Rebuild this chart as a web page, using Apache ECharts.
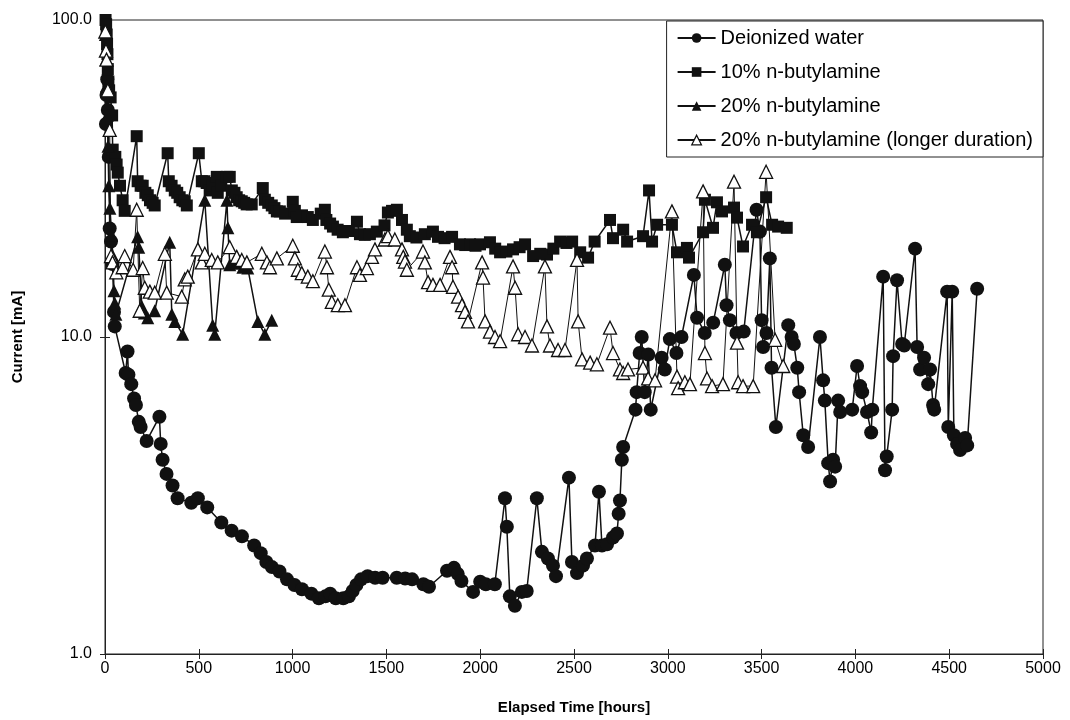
<!DOCTYPE html>
<html>
<head>
<meta charset="utf-8">
<script src="https://cdn.jsdelivr.net/npm/echarts@6/dist/echarts.min.js"></script>
<style>
  html, body { margin: 0; padding: 0; background: #fff; }
  #chart { width: 1070px; height: 720px; }
</style>
</head>
<body>
<div id="chart"></div>
<script>
// [elapsed hours, current mA]
const deionized = [
  [5, 47], [8, 58], [12, 65], [15, 52], [20, 37], [25, 22], [32, 20], [40, 17], [48, 12], [52, 10.8],
  [110, 7.7], [120, 9.0], [125, 7.6], [140, 7.1], [155, 6.4], [165, 6.1], [180, 5.4], [190, 5.2],
  [222, 4.7], [290, 5.6], [297, 4.6], [307, 4.1], [328, 3.7], [360, 3.4], [387, 3.1], [460, 3.0],
  [495, 3.1], [545, 2.9], [620, 2.6], [675, 2.45], [730, 2.35], [795, 2.2], [830, 2.08], [860, 1.95],
  [890, 1.88], [930, 1.82], [970, 1.72], [1010, 1.65], [1050, 1.6], [1100, 1.55], [1140, 1.5],
  [1175, 1.52], [1200, 1.55], [1230, 1.5], [1270, 1.5], [1300, 1.52], [1320, 1.58], [1340, 1.65],
  [1365, 1.72], [1400, 1.76], [1440, 1.74], [1480, 1.74], [1555, 1.74], [1600, 1.73], [1637, 1.72],
  [1697, 1.66], [1727, 1.63], [1823, 1.83], [1860, 1.87], [1880, 1.79], [1900, 1.7], [1962, 1.57],
  [2000, 1.69], [2030, 1.66], [2078, 1.66], [2132, 3.1], [2142, 2.52], [2158, 1.52], [2185, 1.42],
  [2222, 1.57], [2248, 1.58], [2302, 3.1], [2329, 2.1], [2361, 2.0], [2388, 1.9], [2404, 1.76],
  [2473, 3.6], [2489, 1.95], [2516, 1.8], [2548, 1.9], [2569, 2.0], [2612, 2.2], [2633, 3.25],
  [2649, 2.2], [2676, 2.22], [2708, 2.33], [2729, 2.4], [2738, 2.77], [2745, 3.05], [2755, 4.1],
  [2762, 4.5], [2828, 5.9], [2834, 6.7], [2850, 8.9], [2861, 10.0], [2877, 6.7], [2896, 8.8],
  [2909, 5.9], [2967, 8.6], [2984, 7.9], [3011, 9.85], [3046, 8.9], [3073, 10.0], [3139, 15.7],
  [3156, 11.5], [3197, 10.3], [3242, 11.1], [3304, 16.9], [3313, 12.6], [3331, 11.3], [3366, 10.3],
  [3405, 10.4], [3473, 25.2], [3491, 21.5], [3500, 11.3], [3508, 9.3], [3526, 10.3], [3544, 17.7],
  [3553, 8.0], [3576, 5.2], [3642, 10.9], [3660, 10.0], [3672, 9.5], [3690, 8.0], [3700, 6.7],
  [3722, 4.9], [3748, 4.5], [3811, 10.0], [3828, 7.3], [3837, 6.3], [3855, 4.0], [3865, 3.5],
  [3881, 4.1], [3892, 3.9], [3908, 6.3], [3919, 5.8], [3983, 5.9], [4009, 8.1], [4025, 7.0],
  [4036, 6.7], [4062, 5.8], [4084, 5.0], [4090, 5.9], [4148, 15.5], [4158, 3.8], [4167, 4.2],
  [4196, 5.9], [4201, 8.7], [4222, 15.1], [4249, 9.5], [4260, 9.4], [4318, 19.0], [4329, 9.3],
  [4345, 7.9], [4366, 8.6], [4388, 7.1], [4398, 7.9], [4414, 6.1], [4420, 5.9], [4489, 13.9],
  [4495, 5.2], [4516, 13.9], [4525, 4.9], [4542, 4.6], [4558, 4.4], [4585, 4.8], [4596, 4.55],
  [4649, 14.2]
];

const butyl10 = [
  [3, 100], [6, 97], [9, 90], [11, 84], [13, 78], [15, 70], [18, 64], [22, 60], [30, 57], [38, 50],
  [41, 39], [55, 37], [62, 35], [68, 33], [80, 30], [94, 27], [105, 25], [169, 43], [174, 31],
  [190, 30], [201, 30], [215, 28.5], [228, 28], [240, 27], [254, 26.5], [265, 26], [334, 38],
  [340, 31], [355, 30], [372, 29], [385, 28.5], [398, 27.6], [412, 27], [425, 26.8], [436, 26],
  [500, 38], [516, 31], [530, 31], [542, 30.6], [558, 29], [575, 30], [596, 32], [601, 28.5],
  [620, 30], [649, 32], [665, 32], [676, 29], [690, 28.5], [702, 27.6], [715, 27], [729, 26.8],
  [742, 26.5], [755, 26.2], [782, 26.2], [841, 29.5], [852, 27.1], [870, 26.5], [889, 26],
  [903, 25.5], [916, 24.9], [932, 24.9], [960, 24.5], [1001, 26.7], [1012, 25.0], [1022, 23.9],
  [1050, 24.2], [1081, 23.9], [1108, 23.4], [1150, 24.5], [1172, 25.2], [1180, 23.4], [1200, 22.8],
  [1215, 22.3], [1240, 21.8], [1268, 21.4], [1300, 21.6], [1343, 23.1], [1359, 21.1], [1385, 21.0],
  [1412, 21.1], [1449, 21.5], [1490, 22.5], [1508, 24.7], [1530, 25.0], [1556, 25.2], [1583, 23.4],
  [1609, 21.8], [1625, 20.8], [1660, 20.6], [1705, 21.1], [1748, 21.5], [1775, 20.7], [1810, 20.5],
  [1850, 20.7], [1892, 19.6], [1920, 19.5], [1946, 19.6], [1975, 19.4], [1999, 19.6], [2052, 19.9],
  [2080, 19.0], [2106, 18.5], [2140, 18.6], [2175, 18.9], [2210, 19.2], [2239, 19.6], [2282, 18.0],
  [2320, 18.3], [2356, 18.2], [2390, 19.0], [2426, 20.0], [2460, 19.8], [2490, 20.0], [2533, 18.5],
  [2575, 17.8], [2610, 20.0], [2692, 23.4], [2708, 20.5], [2762, 21.8], [2783, 20.0], [2868, 20.8],
  [2900, 29.0], [2916, 20.0], [2943, 22.6], [3022, 22.6], [3049, 18.5], [3102, 19.1], [3113, 17.8],
  [3188, 21.4], [3198, 27.1], [3241, 22.1], [3262, 26.6], [3289, 24.9], [3353, 25.6], [3369, 23.8],
  [3401, 19.3], [3449, 22.6], [3475, 21.4], [3524, 27.6], [3556, 22.6], [3588, 22.3], [3634, 22.1]
];

const butyl20 = [
  [2, 90], [5, 75], [8, 62], [12, 50], [16, 40], [20, 30], [26, 25.5], [35, 21], [42, 18], [48, 14],
  [52, 12.8], [58, 11.8], [174, 20.7], [180, 19.2], [196, 12.5], [210, 11.9], [228, 11.5], [265, 12.1],
  [345, 19.9], [356, 11.8], [372, 11.2], [414, 10.2], [532, 27], [574, 10.9], [585, 10.2], [650, 27],
  [655, 22.1], [665, 16.9], [700, 17.1], [735, 16.6], [761, 16.5], [815, 11.2], [852, 10.2], [889, 11.3]
];

const butyl20Long = [
  [2, 92], [5, 80], [8, 75], [15, 60], [25, 45], [32, 18], [40, 17.2], [60, 16], [94, 16.6], [105, 18],
  [150, 16.3], [169, 25.2], [185, 12.1], [201, 16.5], [212, 14.3], [239, 13.9], [265, 13.8], [319, 18.3],
  [329, 13.8], [409, 13.4], [425, 15.2], [441, 15.5], [495, 18.9], [516, 17.2], [532, 18.3], [569, 17.5],
  [601, 17.2], [665, 19.2], [702, 17.9], [729, 17.5], [756, 17.2], [836, 18.3], [863, 17.2], [879, 16.6],
  [916, 17.7], [1001, 19.4], [1012, 17.7], [1028, 16.3], [1049, 15.9], [1081, 15.5], [1108, 15.0],
  [1172, 18.6], [1183, 16.6], [1193, 14.1], [1209, 12.9], [1241, 12.6], [1279, 12.6], [1343, 16.6],
  [1359, 15.7], [1396, 16.5], [1423, 17.9], [1439, 18.9], [1492, 20.3], [1508, 20.8], [1545, 20.3],
  [1583, 18.9], [1590, 17.9], [1599, 17.3], [1609, 16.3], [1695, 18.6], [1705, 17.2], [1722, 14.9],
  [1748, 14.6], [1786, 14.6], [1839, 17.9], [1850, 16.6], [1855, 14.4], [1882, 13.4], [1903, 12.6],
  [1919, 12.0], [1935, 11.2], [2010, 17.2], [2015, 15.4], [2026, 11.2], [2052, 10.4], [2079, 10.0],
  [2106, 9.7], [2175, 16.7], [2186, 14.3], [2202, 10.2], [2239, 10.0], [2276, 9.4], [2345, 16.7],
  [2356, 10.8], [2372, 9.4], [2415, 9.1], [2452, 9.1], [2516, 17.5], [2522, 11.2], [2543, 8.5],
  [2586, 8.3], [2622, 8.2], [2692, 10.7], [2708, 8.9], [2745, 7.9], [2762, 7.7], [2788, 7.9],
  [2868, 8.0], [2895, 7.4], [2932, 7.3], [3022, 24.9], [3049, 7.5], [3055, 6.9], [3091, 7.2],
  [3118, 7.1], [3188, 28.8], [3198, 8.9], [3209, 7.4], [3236, 7.0], [3294, 7.1], [3353, 30.9],
  [3369, 9.6], [3375, 7.2], [3401, 7.0], [3455, 7.0], [3524, 33.2], [3572, 9.8], [3615, 8.1]
];

const seriesNames = [
  'Deionized water',
  '10% n-butylamine',
  '20% n-butylamine',
  '20% n-butylamine (longer duration)'
];
const xTicks = { min: 0, max: 5000, interval: 500 };
const yTicks = { min: 1, max: 100 };

const font = '"Liberation Sans", Arial, sans-serif';
const ink = '#111';

const chart = echarts.init(document.getElementById('chart'));

function lineSeries(name, data, symbol, size, open) {
  return {
    name: name,
    type: 'line',
    data: data,
    symbol: symbol,
    symbolSize: size,
    showSymbol: true,
    showAllSymbol: true,
    lineStyle: { color: ink, width: open ? 1 : 1.5 },
    itemStyle: open
      ? { color: '#fff', borderColor: ink, borderWidth: 1.3 }
      : { color: ink, borderColor: ink, borderWidth: 0 },
    emphasis: { disabled: true }
  };
}

chart.setOption({
  animation: false,
  backgroundColor: '#fff',
  grid: {
    left: 105, right: 27, top: 20, bottom: 65,
    show: true, borderColor: '#222', borderWidth: 1, backgroundColor: 'transparent'
  },
  legend: {
    orient: 'vertical',
    right: 27,
    top: 21,
    padding: [0, 10, 0, 10],
    itemWidth: 38,
    itemHeight: 12,
    itemGap: 0,
    backgroundColor: '#fff',
    borderColor: '#222',
    borderWidth: 1,
    borderRadius: 0,
    textStyle: { fontFamily: font, fontSize: 20, lineHeight: 34, color: '#000' },
    data: seriesNames.map(function (n, i) {
      return { name: n, itemStyle: i === 3 ? { color: '#fff', borderColor: ink, borderWidth: 1.3 } : undefined };
    })
  },
  xAxis: [{
    type: 'value',
    min: xTicks.min, max: xTicks.max, interval: xTicks.interval,
    name: 'Elapsed Time [hours]',
    nameLocation: 'middle',
    nameGap: 46,
    nameTextStyle: { fontFamily: font, fontSize: 15, fontWeight: 'bold', color: '#000' },
    axisLine: { lineStyle: { color: '#222', width: 1 } },
    axisTick: { inside: false, length: 5, lineStyle: { color: '#222' } },
    axisLabel: {
      fontFamily: font, fontSize: 16, color: '#000', margin: 7,
      formatter: function (v) { return String(v); }
    },
    splitLine: { show: false }
  }, {
    type: 'value', position: 'bottom',
    min: xTicks.min, max: xTicks.max, interval: xTicks.interval,
    axisLine: { show: false },
    axisTick: { inside: true, length: 5, lineStyle: { color: '#222' } },
    axisLabel: { show: false },
    splitLine: { show: false }
  }],
  yAxis: [{
    type: 'log',
    logBase: 10,
    min: yTicks.min, max: yTicks.max,
    name: 'Current [mA]',
    nameLocation: 'middle',
    nameGap: 80,
    nameTextStyle: { fontFamily: font, fontSize: 15, fontWeight: 'bold', color: '#000' },
    axisLine: { show: true, lineStyle: { color: '#222', width: 1 } },
    axisTick: { show: true, inside: false, length: 5, lineStyle: { color: '#222' } },
    minorTick: { show: false },
    axisLabel: {
      fontFamily: font, fontSize: 16, color: '#000', margin: 13,
      formatter: function (v) { return Number(v).toFixed(1); }
    },
    splitLine: { show: false }
  }, {
    type: 'log', logBase: 10, position: 'left',
    min: yTicks.min, max: yTicks.max,
    axisLine: { show: false },
    axisTick: { show: true, inside: true, length: 5, lineStyle: { color: '#222' } },
    axisLabel: { show: false },
    splitLine: { show: false }
  }],
  series: [
    lineSeries(seriesNames[0], deionized, 'circle', 14, false),
    lineSeries(seriesNames[1], butyl10, 'rect', 12, false),
    lineSeries(seriesNames[2], butyl20, 'triangle', 13, false),
    lineSeries(seriesNames[3], butyl20Long, 'triangle', 13, true)
  ]
});
</script>
</body>
</html>
